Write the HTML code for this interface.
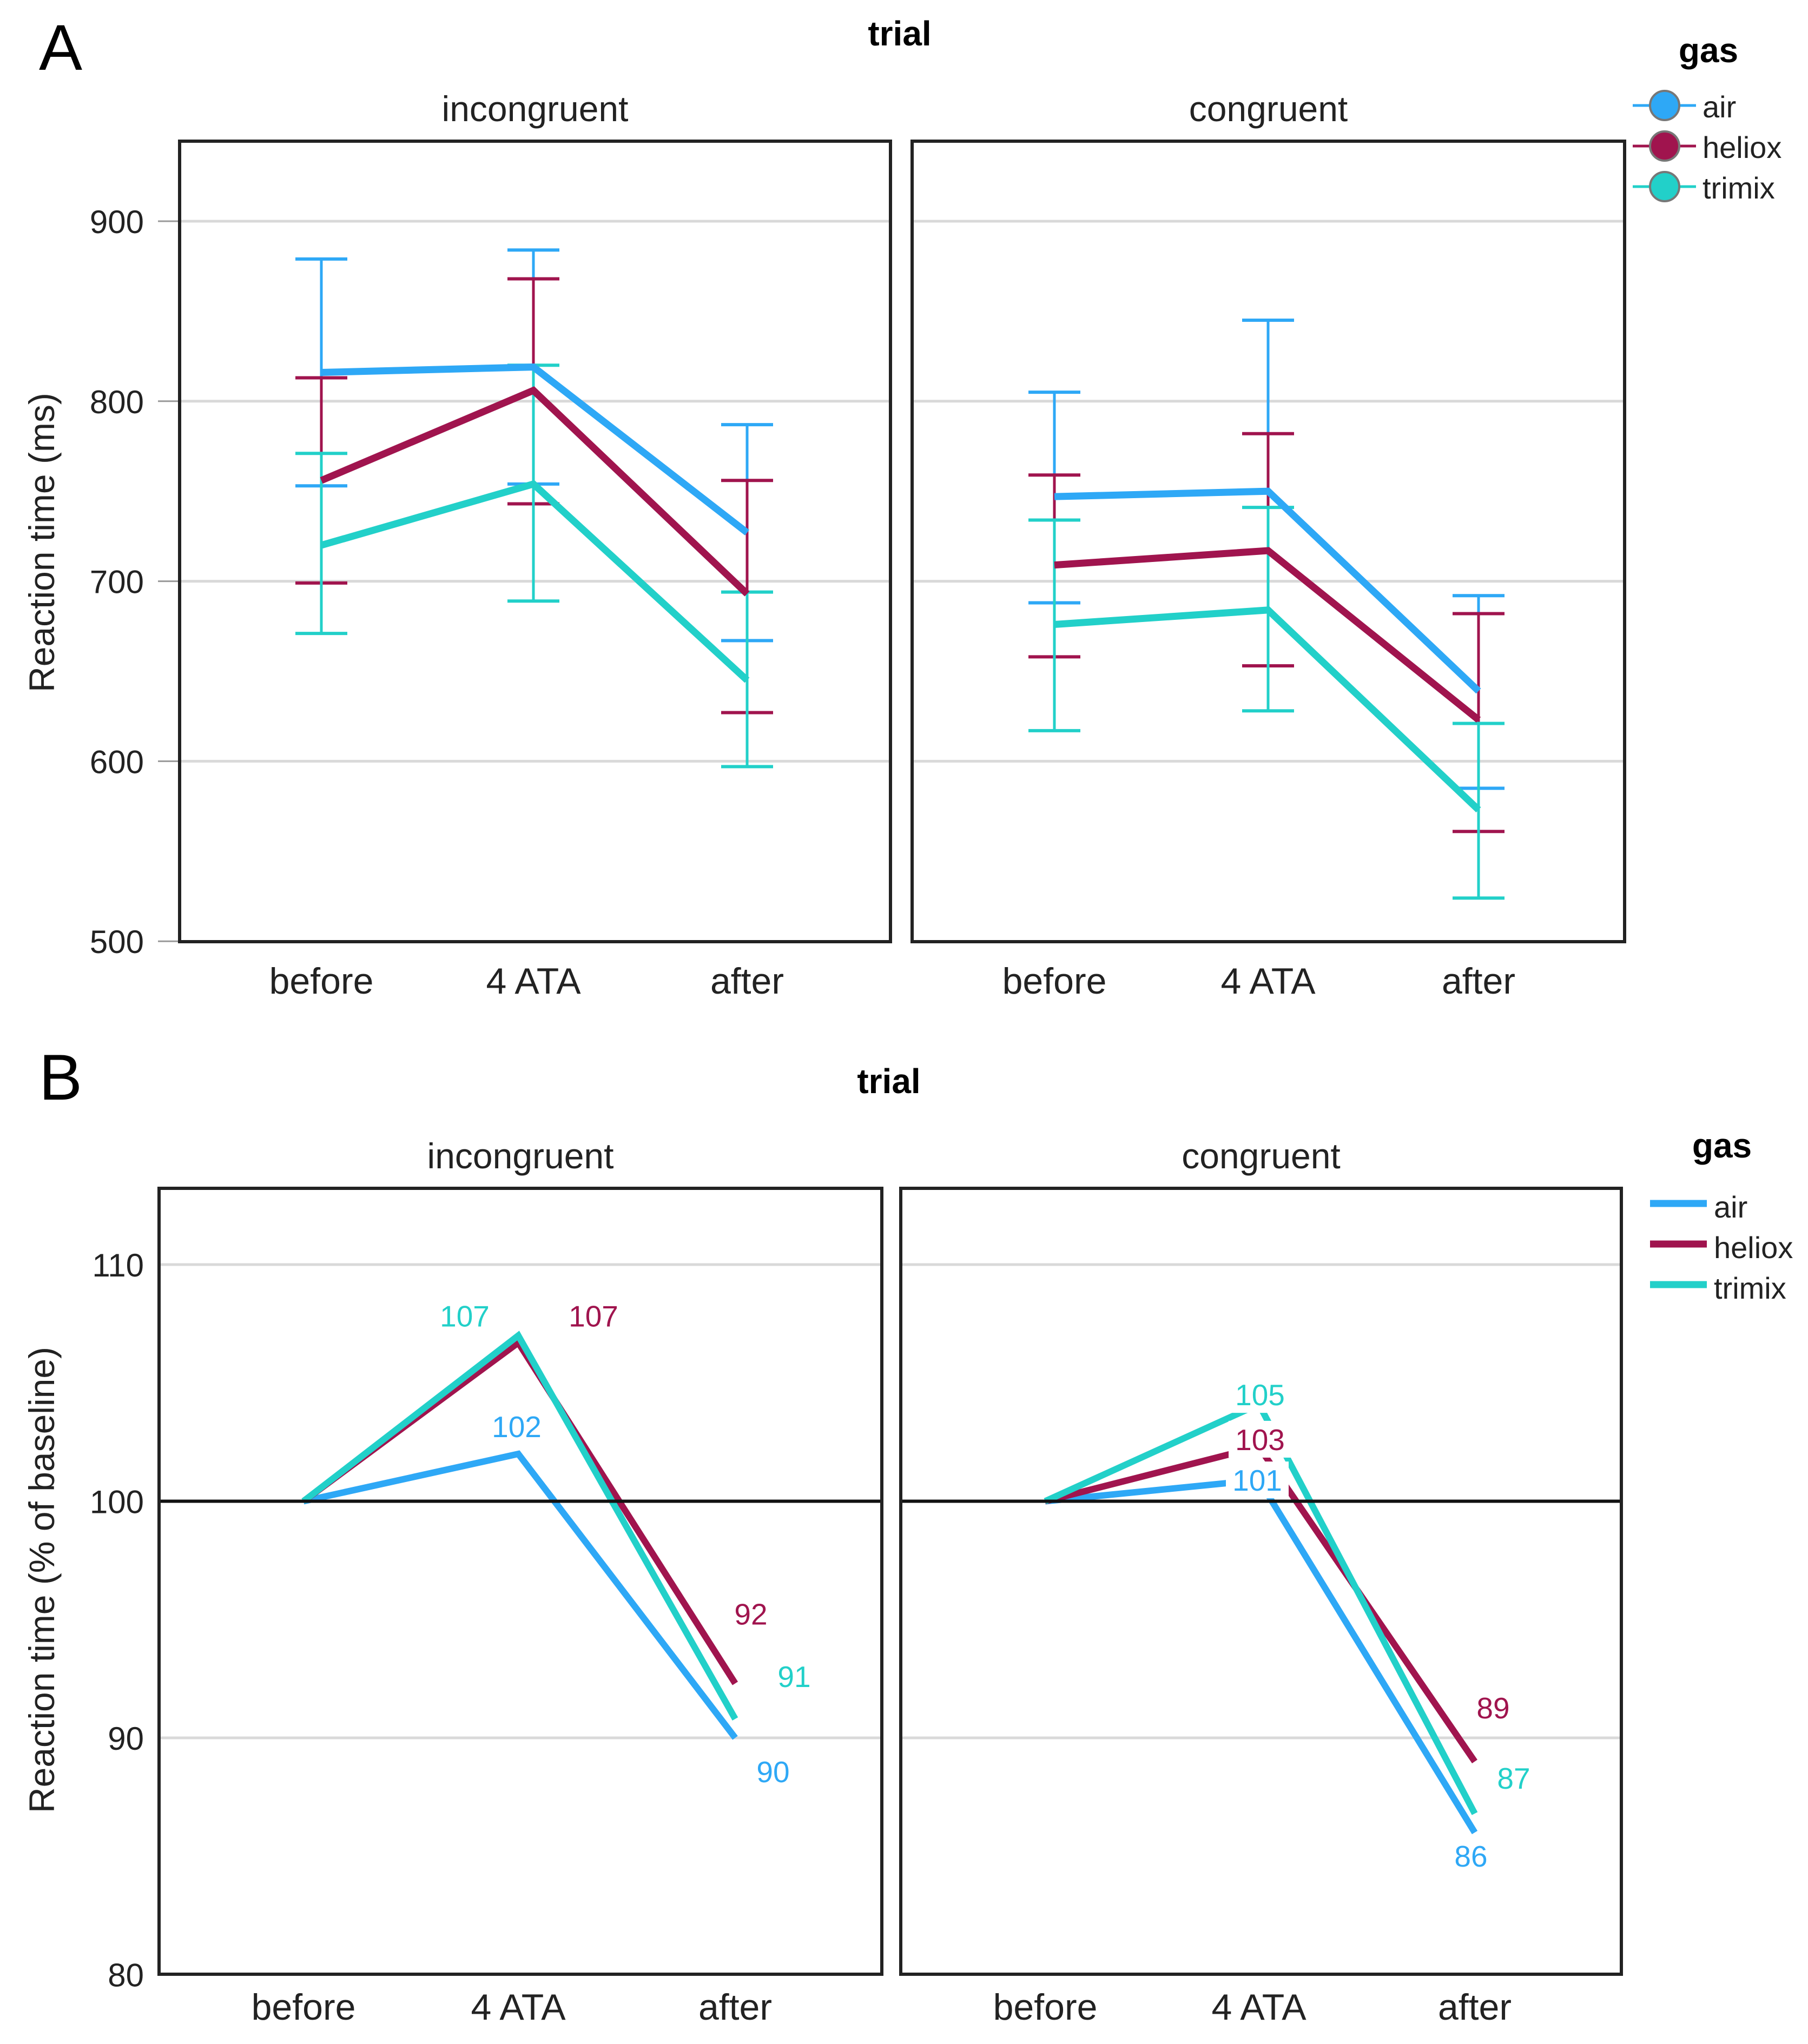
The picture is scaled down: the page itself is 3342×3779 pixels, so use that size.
<!DOCTYPE html>
<html><head><meta charset="utf-8"><style>
html,body{margin:0;padding:0;background:#fff}
svg{display:block}
text{font-family:"Liberation Sans",Arial,sans-serif}
</style></head><body>
<svg id="fig" width="3342" height="3779" viewBox="0 0 3342 3779" xmlns="http://www.w3.org/2000/svg"></svg>
<script>
// ---- shared data ----
const categories = ["before", "4 ATA", "after"];
const trials = ["incongruent", "congruent"];
const gases = ["air", "heliox", "trimix"];
const gasColors = ["#2ea8f6", "#a0144e", "#22d0c9"];

// Panel A: mean reaction time (ms) [trial][gas][category]
const rtAir = [[816, 819, 727], [747, 750, 639]];
const rtHeliox = [[756, 806, 693], [709, 717, 623]];
const rtTrimix = [[720, 754, 645], [676, 684, 573]];
// error bar lows / highs
const loAir = [[753, 754, 667], [688, 653, 585]];
const hiAir = [[879, 884, 787], [805, 845, 692]];
const loHeliox = [[699, 743, 627], [658, 653, 561]];
const hiHeliox = [[813, 868, 756], [759, 782, 682]];
const loTrimix = [[671, 689, 597], [617, 628, 524]];
const hiTrimix = [[771, 820, 694], [734, 741, 621]];
const ticksA = [500, 600, 700, 800, 900];

// Panel B: % of baseline
const pctAir = [[100, 102, 90], [100, 100.9, 86]];
const pctHeliox = [[100, 106.7, 92.3], [100, 102.3, 89]];
const pctTrimix = [[100, 107, 90.8], [100, 104.1, 86.8]];
const lblAir = [["", "102", "90"], ["", "101", "86"]];
const lblHeliox = [["", "107", "92"], ["", "103", "89"]];
const lblTrimix = [["", "107", "91"], ["", "105", "87"]];
const ticksB = [80, 90, 100, 110];

const NS = "http://www.w3.org/2000/svg";
const svg = document.getElementById("fig");
function el(tag, attrs, parent, txt) {
  const e = document.createElementNS(NS, tag);
  for (const k in attrs) e.setAttribute(k, attrs[k]);
  if (txt !== undefined) e.textContent = txt;
  (parent || svg).appendChild(e);
  return e;
}

// layout
const boxesA = [[332, 1646], [1686, 3003]];
const topA = 261, botA = 1741;
const catXA = [[594, 986, 1381], [1949, 2344, 2733]];
const yA = v => 409 + (900 - v) * 3.328;

const boxesB = [[294, 1630], [1665, 2997]];
const topB = 2197, botB = 3650;
const catXB = [[561, 958, 1359], [1932, 2327, 2726]];
const yB = v => 2775.5 - (v - 100) * 43.75;

const meansA = [rtAir, rtHeliox, rtTrimix];
const lowsA = [loAir, loHeliox, loTrimix];
const highsA = [hiAir, hiHeliox, hiTrimix];
const meansB = [pctAir, pctHeliox, pctTrimix];
const labelsB = [lblAir, lblHeliox, lblTrimix];
// label offsets (px) relative to point, per gas per trial per category
const offB = [
  [[[0,0],[-3,-51],[70,62]], [[0,0],[-3,0],[-7,43]]],
  [[[0,0],[139,-50],[29,-129]], [[0,0],[2,-14],[34,-100]]],
  [[[0,0],[-99,-37],[109,-79]], [[0,0],[2,-18],[72,-66]]]
];

// ---------- Panel A ----------
let t;
t = el("text", {x: 72, y: 129, "font-size": 120}, svg, "A");
 
t = el("text", {x: 1663, y: 84, "font-size": 64, "font-weight": "bold", "text-anchor": "middle"}, svg, "trial");
 
t = el("text", {transform: "translate(100,1003) rotate(-90)", "font-size": 66, "text-anchor": "middle", fill: "#222"}, svg, "Reaction time (ms)");
 

ticksA.forEach(v => {
  const tk = el("text", {x: 266, y: yA(v) + 22, "font-size": 60, "text-anchor": "end", fill: "#222"}, svg, String(v));
  
  
  el("line", {x1: 292, x2: 332, y1: yA(v), y2: yA(v), stroke: "#999", "stroke-width": 3});
});

trials.forEach((tr, ti) => {
  const [x0, x1] = boxesA[ti];
  const g = el("g", {});
  
  
  ticksA.forEach(v => { if (v > 500) el("line", {x1: x0, x2: x1, y1: yA(v), y2: yA(v), stroke: "#d9d9d9", "stroke-width": 5}, g); });
  const h = el("text", {x: (x0 + x1) / 2, y: 224, "font-size": 66, "text-anchor": "middle", fill: "#222"}, svg, tr);
  
  
  categories.forEach((c, ci) => {
    const cl = el("text", {x: catXA[ti][ci], y: 1837, "font-size": 68, "text-anchor": "middle", fill: "#222"}, svg, c);
    
    
  });
  gases.forEach((gs, gi) => {
    const col = gasColors[gi];
    categories.forEach((c, ci) => {
      const x = catXA[ti][ci];
      const eb = el("g", {stroke: col, "stroke-width": 5}, g);
      
      
      const lo = yA(lowsA[gi][ti][ci]), hi = yA(highsA[gi][ti][ci]);
      el("line", {x1: x, x2: x, y1: lo, y2: hi}, eb);
      el("line", {x1: x - 48, x2: x + 48, y1: lo, y2: lo, "stroke-width": 6}, eb);
      el("line", {x1: x - 48, x2: x + 48, y1: hi, y2: hi, "stroke-width": 6}, eb);
    });
  });
  gases.forEach((gs, gi) => {
    const pts = categories.map((c, ci) => catXA[ti][ci] + "," + yA(meansA[gi][ti][ci])).join(" ");
    const pl = el("polyline", {points: pts, fill: "none", stroke: gasColors[gi], "stroke-width": 13, "stroke-linejoin": "miter"}, g);
    
    
  });
  const bx = el("rect", {x: x0, y: topA, width: x1 - x0, height: botA - topA, fill: "none", stroke: "#222", "stroke-width": 6}, g);
  
  
});

// legend A
t = el("text", {x: 3158, y: 115, "font-size": 64, "font-weight": "bold", "text-anchor": "middle"}, svg, "gas");
 
gases.forEach((gs, gi) => {
  const y = 195 + gi * 75;
  const lg = el("g", {});
  
  
  el("line", {x1: 3018, x2: 3135, y1: y, y2: y, stroke: gasColors[gi], "stroke-width": 5}, lg);
  el("circle", {cx: 3077, cy: y, r: 27, fill: gasColors[gi], stroke: "#777", "stroke-width": 4}, lg);
  el("text", {x: 3147, y: y + 22, "font-size": 56, fill: "#222"}, lg, gs);
});

// ---------- Panel B ----------
t = el("text", {x: 72, y: 2033, "font-size": 120}, svg, "B");
 
t = el("text", {x: 1643, y: 2021, "font-size": 64, "font-weight": "bold", "text-anchor": "middle"}, svg, "trial");
 
t = el("text", {transform: "translate(100,2921) rotate(-90)", "font-size": 66, "text-anchor": "middle", fill: "#222"}, svg, "Reaction time (% of baseline)");
 

ticksB.forEach(v => {
  const tk = el("text", {x: 266, y: yB(v) + 22, "font-size": 60, "text-anchor": "end", fill: "#222"}, svg, String(v));
  
  
});

trials.forEach((tr, ti) => {
  const [x0, x1] = boxesB[ti];
  const g = el("g", {});
  
  
  ticksB.forEach(v => {
    if (v === 110 || v === 90) el("line", {x1: x0, x2: x1, y1: yB(v), y2: yB(v), stroke: "#d9d9d9", "stroke-width": 5}, g);
  });
  const h = el("text", {x: (x0 + x1) / 2, y: 2160, "font-size": 66, "text-anchor": "middle", fill: "#222"}, svg, tr);
  
  
  categories.forEach((c, ci) => {
    const cl = el("text", {x: catXB[ti][ci], y: 3734, "font-size": 68, "text-anchor": "middle", fill: "#222"}, svg, c);
    
    
  });
  gases.forEach((gs, gi) => {
    const pts = categories.map((c, ci) => catXB[ti][ci] + "," + yB(meansB[gi][ti][ci])).join(" ");
    const pl = el("polyline", {points: pts, fill: "none", stroke: gasColors[gi], "stroke-width": 12, "stroke-linejoin": "miter"}, g);
    
    
  });
  const base = el("line", {x1: x0, x2: x1, y1: yB(100), y2: yB(100), stroke: "#111", "stroke-width": 6}, g);
  
  
  gases.forEach((gs, gi) => {
    categories.forEach((c, ci) => {
      const s = labelsB[gi][ti][ci];
      if (!s) return;
      const cx = catXB[ti][ci] + offB[gi][ti][ci][0];
      const cy = yB(meansB[gi][ti][ci]) + offB[gi][ti][ci][1];
      if (ti === 1 && ci === 1) el("rect", {x: cx - 58, y: cy - 34, width: 116, height: 68, fill: "#fff"}, g);
      const lb = el("text", {x: cx, y: cy + 20, "font-size": 55, "text-anchor": "middle", fill: gasColors[gi]}, g, s);
      
      
    });
  });
  const bx = el("rect", {x: x0, y: topB, width: x1 - x0, height: botB - topB, fill: "none", stroke: "#222", "stroke-width": 6}, g);
  
  
});

// legend B
t = el("text", {x: 3183, y: 2140, "font-size": 64, "font-weight": "bold", "text-anchor": "middle"}, svg, "gas");
 
gases.forEach((gs, gi) => {
  const y = 2225 + gi * 75;
  const lg = el("g", {});
  
  
  el("line", {x1: 3050, x2: 3155, y1: y, y2: y, stroke: gasColors[gi], "stroke-width": 13}, lg);
  el("text", {x: 3168, y: y + 26, "font-size": 56, fill: "#222"}, lg, gs);
});
</script>
</body></html>
